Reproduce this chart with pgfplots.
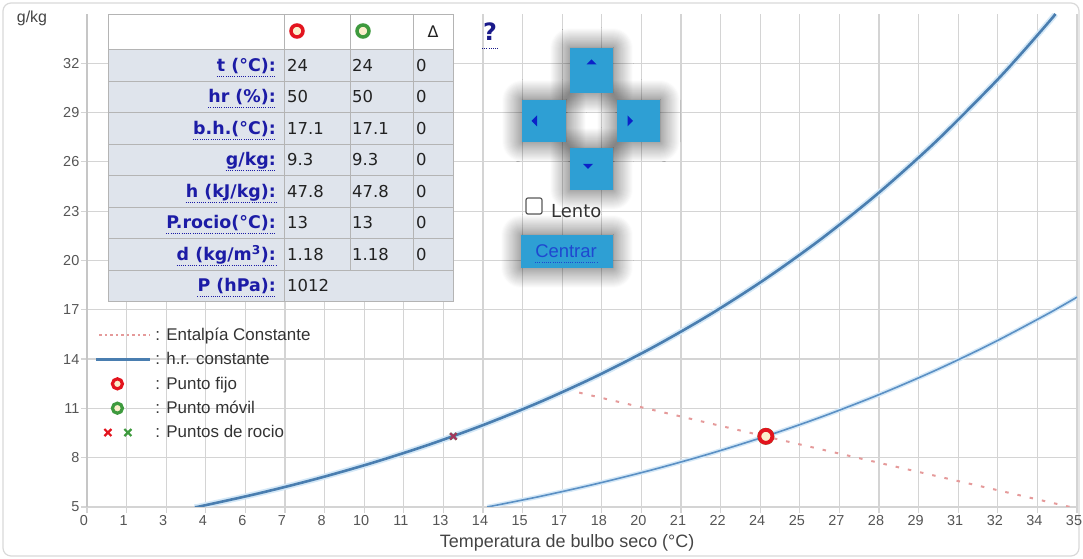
\documentclass[border=0pt]{standalone}
\usepackage{pgfplots}
\pgfplotsset{compat=1.18}
\usepackage{pgfplotstable}
\usepackage{fontspec}
\setmainfont{Liberation Sans}
\newfontfamily\tabfont{DejaVu Sans}
\usetikzlibrary{shadows.blur}

\definecolor{framec}{HTML}{D9D9D9}
\definecolor{gridc}{HTML}{D4D4D4}
\definecolor{axc}{HTML}{C6C6C6}
\definecolor{tickc}{HTML}{555555}
\definecolor{labc}{HTML}{444444}
\definecolor{legc}{HTML}{333333}
\definecolor{hrA}{HTML}{4A7EB0}
\definecolor{hrB}{HTML}{5B90C4}
\definecolor{halo}{HTML}{D4E8F7}
\definecolor{enth}{HTML}{E59A9A}
\definecolor{pfijo}{HTML}{E3141E}
\definecolor{pmovil}{HTML}{3E9A3E}
\definecolor{rocio}{HTML}{A3375F}
\definecolor{ringfill}{HTML}{FBEECB}
\definecolor{rowbg}{HTML}{DFE4EC}
\definecolor{tabline}{HTML}{B4B4B4}
\definecolor{lblblue}{HTML}{1C1CA6}
\definecolor{valc}{HTML}{222222}
\definecolor{btn}{HTML}{2E9FD4}
\definecolor{btnarrow}{HTML}{0B22C8}
\definecolor{centrar}{HTML}{1F48D0}
\definecolor{qcol}{HTML}{1A1A8A}
\definecolor{lentoc}{HTML}{333333}

% h.r. 100 %
\pgfplotstableread{
t w
3.86 5.000
4 5.039
6 5.801
8 6.664
10 7.640
12 8.741
14 9.983
16 11.380
18 12.950
20 14.711
22 16.685
24 18.896
26 21.369
28 24.133
30 27.219
32 30.664
33 32.534
34 34.506
34.24 35.000
}\hrcien

% h.r. 50 %
\pgfplotstableread{
t w
14.15 5.000
16 5.638
18 6.409
20 7.270
22 8.232
24 9.307
26 10.504
28 11.837
30 13.318
32 14.963
34 16.787
35 17.772
}\hrcincuenta

% entalpia constante 47.8 kJ/kg
\pgfplotstableread{
t w
17.4 11.96
20 10.91
24 9.29
28 7.69
32 6.10
34.76 5.00
}\entalpia

\pgfplotstableread{
t w
24 9.3
}\punto

\pgfplotstableread{
t w
12.95 9.3
}\rocio

\begin{document}
\begin{tikzpicture}
\useasboundingbox (0bp,0bp) rectangle (1083bp,559bp);
\begin{scope}[shift={(0bp,559bp)}, x=1bp, y=-1bp]
  \draw[framec, line width=1.2bp, rounded corners=8bp] (3,3) rectangle (1079,556);
\end{scope}

\begin{axis}[
  at={(87bp,52bp)}, anchor=south west,
  scale only axis, width=990bp, height=493bp,
  xmin=0, xmax=35, ymin=5, ymax=35,
  axis x line*=bottom, axis y line*=left,
  x axis line style={-, draw=gridc, line width=1.2bp},
  y axis line style={-, draw=axc, line width=2bp},
  xtick={0,1.4,2.8,4.2,5.6,7,8.4,9.8,11.2,12.6,14,15.4,16.8,18.2,19.6,21,22.4,23.8,25.2,26.6,28,29.4,30.8,32.2,33.6,35},
  xticklabels={0,1,3,4,6,7,8,10,11,13,14,15,17,18,20,21,22,24,25,27,28,29,31,32,34,35},
  ytick={5,8,11,14,17,20,23,26,29,32},
  grid=major, major grid style={draw=gridc, line width=1.2bp},
  tick align=outside, major tick length=6bp,
  tick style={draw=gridc, line width=1.2bp},
  /pgf/number format/assume math mode=true,
  ticklabel style={font=\fontsize{14.5}{16}\selectfont, text=tickc},
  yticklabel style={inner sep=1.5bp},
  xticklabel style={inner sep=2bp, xshift=-3bp},
  xlabel={Temperatura de bulbo seco (°C)},
  ylabel={g/kg},
  every axis x label/.style={at={(axis description cs:0.485,0)}, anchor=center, yshift=-36bp, font=\fontsize{18}{20}\selectfont, text=labc},
  every axis y label/.style={at={(axis description cs:0,1)}, anchor=center, xshift=-55bp, yshift=-4bp, font=\fontsize{16}{18}\selectfont, text=labc},
  legend style={at={(axis description cs:0.008,0.367)}, anchor=north west, draw=none, fill=none, inner sep=0pt,
    font=\fontsize{17}{19}\selectfont, text=legc, row sep=6.5bp},
  legend cell align=left,
]
% halos
\addplot[halo, line width=6bp, smooth, forget plot] table[x=t,y=w] {\hrcien};
\addplot[halo, line width=4.5bp, smooth, forget plot] table[x=t,y=w] {\hrcincuenta};
% h.r. curves
\addplot[hrA, line width=2.6bp, smooth, forget plot] table[x=t,y=w] {\hrcien};
\addplot[hrB, line width=1.6bp, smooth, forget plot] table[x=t,y=w] {\hrcincuenta};
% enthalpy
\addplot[enth, line width=2bp, dash pattern=on 3.5bp off 9bp, forget plot] table[x=t,y=w] {\entalpia};
% dew points
\addplot[only marks, mark=x, mark size=4.5bp, mark options={draw=pmovil, line width=2.2bp}, forget plot] table[x=t,y=w] {\rocio};
\addplot[only marks, mark=x, mark size=4.5bp, mark options={draw=rocio, line width=2.2bp}, forget plot] table[x=t,y=w] {\rocio};
% moving and fixed point
\addplot[only marks, mark=*, mark size=6.5bp, mark options={draw=pmovil, fill=ringfill, line width=3.8bp}, forget plot] table[x=t,y=w] {\punto};
\addplot[only marks, mark=*, mark size=6.5bp, mark options={draw=pfijo, fill=ringfill, line width=3.8bp}, forget plot] table[x=t,y=w] {\punto};

\addlegendimage{legend image code/.code={\draw[enth, line width=2bp, dash pattern=on 2.5bp off 3bp] (3bp,0bp) -- (53bp,0bp); \path[draw=none,fill=none] (0bp,-6bp) rectangle (57bp,6bp);}}
\addlegendentry{: Entalpía Constante}
\addlegendimage{legend image code/.code={\draw[hrA, line width=2.6bp] (0bp,0bp) -- (54bp,0bp); \path[draw=none,fill=none] (0bp,-6bp) rectangle (57bp,6bp);}}
\addlegendentry{: h.r. constante}
\addlegendimage{legend image code/.code={\draw[pfijo, line width=3.2bp, fill=ringfill] (21bp,0bp) circle[radius=5bp]; \path[draw=none,fill=none] (0bp,-6bp) rectangle (57bp,6bp);}}
\addlegendentry{: Punto fijo}
\addlegendimage{legend image code/.code={\draw[pmovil, line width=3.2bp, fill=ringfill] (21bp,0bp) circle[radius=5bp]; \path[draw=none,fill=none] (0bp,-6bp) rectangle (57bp,6bp);}}
\addlegendentry{: Punto móvil}
\addlegendimage{legend image code/.code={\draw[pfijo, line width=2.2bp] (8bp,-3.5bp) -- (15bp,3.5bp) (8bp,3.5bp) -- (15bp,-3.5bp); \draw[pmovil, line width=2.2bp] (28bp,-3.5bp) -- (35bp,3.5bp) (28bp,3.5bp) -- (35bp,-3.5bp); \path[draw=none,fill=none] (0bp,-6bp) rectangle (57bp,6bp);}}
\addlegendentry{: Puntos de rocio}
\end{axis}

\begin{scope}[shift={(0bp,559bp)}, x=1bp, y=-1bp,
  lab/.style={anchor=base east, inner sep=0pt, text=lblblue, font=\tabfont\bfseries\fontsize{17.5}{20}\selectfont},
  val/.style={anchor=base west, inner sep=0pt, text=valc, font=\tabfont\fontsize{16.5}{19}\selectfont},
  uline/.style={lblblue, line width=0.9bp, dash pattern=on 1bp off 1.2bp},
  btnsh/.style={fill=btn, blur shadow={shadow xshift=0bp, shadow yshift=0bp, shadow blur radius=20bp, shadow opacity=70, shadow blur steps=20}}]
  % table
  \fill[white] (108,15) rectangle (453,50);
  \fill[rowbg] (108,50) rectangle (453,302);
  \foreach \yy in {50,81.5,113,144.5,176,207.5,239,270.5}
    \draw[tabline, line width=1bp] (108,\yy) -- (453,\yy);
  \draw[tabline, line width=1bp] (284,15) -- (284,302);
  \draw[tabline, line width=1bp] (350,15) -- (350,270.5);
  \draw[tabline, line width=1bp] (413,15) -- (413,270.5);
  \draw[tabline, line width=1bp] (108,15) rectangle (453,302);
  \draw[pfijo, line width=3.5bp, fill=ringfill] (297,31) circle[radius=6bp];
  \draw[pmovil, line width=3.5bp, fill=ringfill] (363,31) circle[radius=6bp];
  \node[anchor=base, inner sep=0pt, text=valc, font=\tabfont\fontsize{16}{18}\selectfont] at (433,38) {Δ};

  \node[lab] (l1) at (276,72) {t (°C):};
  \node[lab] (l2) at (276,103) {hr (\%):};
  \node[lab] (l3) at (276,135) {b.h.(°C):};
  \node[lab] (l4) at (276,166) {g/kg:};
  \node[lab] (l5) at (276,198) {h (kJ/kg):};
  \node[lab] (l6) at (276,229) {P.rocio(°C):};
  \node[lab] (l7) at (276,261) {d (kg/m\textsuperscript{3}):};
  \node[lab] (l8) at (276,292) {P (hPa):};
  \foreach \n in {l1,l2,l3,l4,l5,l6,l7,l8}
    \draw[uline] ([yshift=-4.5bp]\n.base west) -- ([yshift=-4.5bp]\n.base east);

  \node[val] at (287,72) {24};   \node[val] at (352,72) {24};   \node[val] at (416,72) {0};
  \node[val] at (287,103) {50};  \node[val] at (352,103) {50};  \node[val] at (416,103) {0};
  \node[val] at (287,135) {17.1};\node[val] at (352,135) {17.1};\node[val] at (416,135) {0};
  \node[val] at (287,166) {9.3}; \node[val] at (352,166) {9.3}; \node[val] at (416,166) {0};
  \node[val] at (287,198) {47.8};\node[val] at (352,198) {47.8};\node[val] at (416,198) {0};
  \node[val] at (287,229) {13};  \node[val] at (352,229) {13};  \node[val] at (416,229) {0};
  \node[val] at (287,261) {1.18};\node[val] at (352,261) {1.18};\node[val] at (416,261) {0};
  \node[val] at (287,292) {1012};

  % help mark
  \node[inner sep=0pt, text=qcol, font=\tabfont\bfseries\fontsize{24}{26}\selectfont] at (490,32) {?};
  \draw[uline, draw=qcol] (482,48) -- (498,48);

  % buttons
  \path[btnsh] (570,48) rectangle (613,93);
  \path[btnsh] (522,100) rectangle (566,142);
  \path[btnsh] (617,100) rectangle (660,142);
  \path[btnsh] (570,148) rectangle (613,190);
  \fill[btn] (570,48) rectangle (613,93);
  \fill[btn] (522,100) rectangle (566,142);
  \fill[btn] (617,100) rectangle (660,142);
  \fill[btn] (570,148) rectangle (613,190);
  \fill[btnarrow] (586.5,64.5) -- (596.5,64.5) -- (591.5,59.5) -- cycle;
  \fill[btnarrow] (537,115.5) -- (537,126.5) -- (531.5,121) -- cycle;
  \fill[btnarrow] (627.5,115.5) -- (627.5,126.5) -- (633,121) -- cycle;
  \fill[btnarrow] (583,164) -- (593,164) -- (588,169) -- cycle;

  % checkbox
  \draw[gray!70!black, line width=1.2bp, fill=white, rounded corners=2bp] (526,198) rectangle (542,214);
  \node[anchor=base west, inner sep=0pt, text=lentoc, font=\tabfont\fontsize{18}{20}\selectfont] at (551,218) {Lento};

  % centrar
  \path[btnsh] (521,235) rectangle (613,268);
  \fill[btn] (521,235) rectangle (613,268);
  \node[anchor=base, inner sep=0pt, text=centrar, font=\fontsize{18.5}{20}\selectfont] (cb) at (566,258) {Centrar};
  \draw[uline, draw=centrar] ([yshift=-4bp]cb.base west) -- ([yshift=-4bp]cb.base east);
\end{scope}
\end{tikzpicture}
\end{document}
